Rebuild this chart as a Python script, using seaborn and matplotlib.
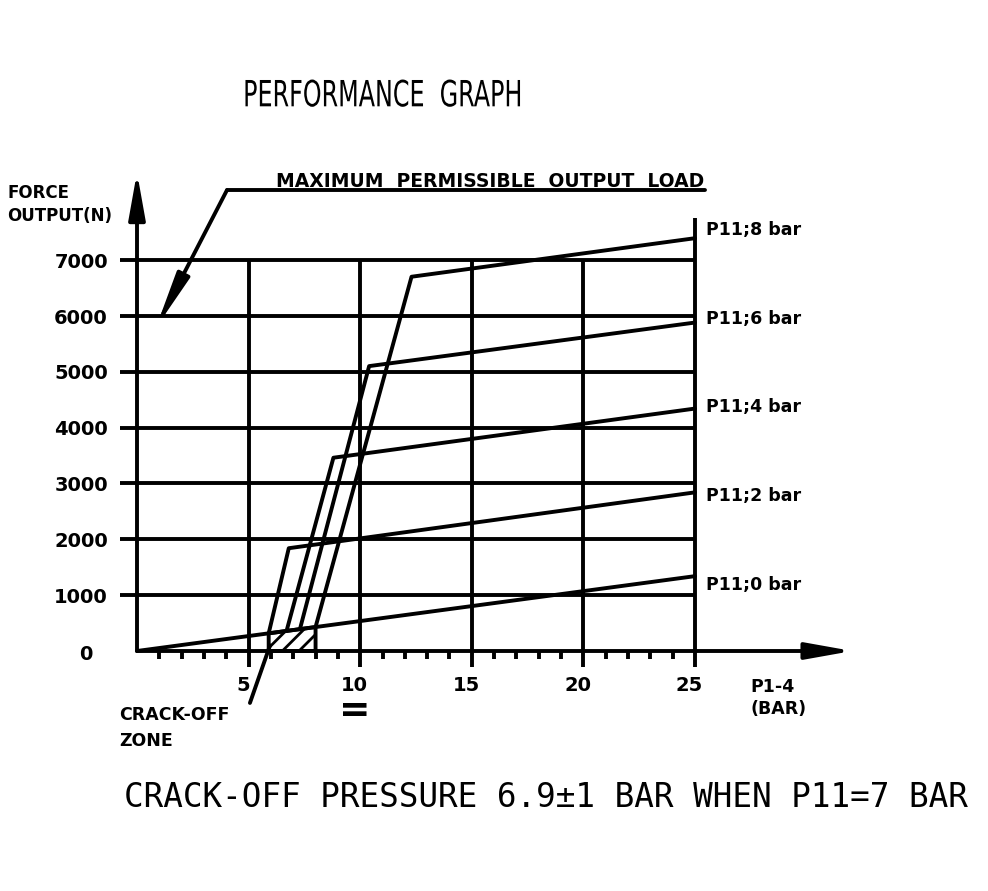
import numpy as np
import pandas as pd
import matplotlib.pyplot as plt
import seaborn as sns
from matplotlib.patheffects import AbstractPathEffect
from matplotlib.transforms import Affine2D

# valores
series_names = ["P11;0 bar", "P11;2 bar", "P11;4 bar", "P11;6 bar", "P11;8 bar"]
p14_bar = [
    [0.0, 25.0],
    [5.9, 6.8, 25.0],
    [6.7, 8.8, 25.0],
    [7.3, 10.4, 25.0],
    [8.0, 12.3, 25.0],
]
force_n = [
    [0, 1340],
    [316, 1840, 2840],
    [359, 3460, 4340],
    [392, 5100, 5880],
    [429, 6700, 7390],
]
x_ticks = [5, 10, 15, 20, 25]
y_ticks = [0, 1000, 2000, 3000, 4000, 5000, 6000, 7000]
crack_zone = [5.9, 8.0]


class Angosto(AbstractPathEffect):
    # comprime el texto en x alrededor de su centro (letra tipo CAD)
    def __init__(self, sx):
        super().__init__()
        self.sx = sx

    def draw_path(self, renderer, gc, tpath, affine, rgbFace=None):
        bb = tpath.get_extents(affine)
        cx = (bb.x0 + bb.x1) / 2
        aff = affine + Affine2D().translate(-cx, 0).scale(self.sx, 1).translate(cx, 0)
        renderer.draw_path(gc, tpath, aff, rgbFace)


sns.set_style("white")
plt.rcParams["hatch.linewidth"] = 2.0
LW = 2.8
bold = dict(family="DejaVu Sans", fontweight="bold", color="black")

# tabla larga para seaborn
rows = []
for name, xs, ys in zip(series_names, p14_bar, force_n):
    for x, y in zip(xs, ys):
        rows.append({"serie": name, "P1-4": x, "F": y})
df = pd.DataFrame(rows)

fig = plt.figure(figsize=(9.88, 8.91), dpi=100)
ax = fig.add_axes([0, 0, 1, 1])
# escala: 22.32 px por bar, 0.05586 px por N
ax.set_xlim(-137 / 22.32, (988 - 137) / 22.32)
ax.set_ylim((651 - 891) / 0.05586, 651 / 0.05586)
ax.axis("off")

# rejilla
for y in y_ticks[1:]:
    ax.plot([-0.75, 25], [y, y], color="black", lw=LW, solid_capstyle="butt")
for x in x_ticks[:-1]:
    ax.plot([x, x], [-290, 7000], color="black", lw=LW, solid_capstyle="butt")
ax.plot([25, 25], [-290, 7760], color="black", lw=LW, solid_capstyle="butt")
for x in range(1, 25):
    if x % 5:
        ax.plot([x, x], [0, -150], color="black", lw=LW, solid_capstyle="butt")

# ejes con flecha
flecha = dict(arrowstyle="-|>,head_length=2.8,head_width=0.5", mutation_scale=10,
              lw=LW, color="black", shrinkA=0, shrinkB=0)
ax.annotate("", xy=(32.05, 0), xytext=(0, 0), arrowprops=flecha)
ax.annotate("", xy=(0, 8570), xytext=(0, 0), arrowprops=flecha)

# zona de crack-off
zx = np.array(crack_zone)
ax.fill_between(zx, 0, zx * force_n[0][1] / p14_bar[0][1], facecolor="none",
                edgecolor="black", hatch="//", lw=LW)

# curvas
sns.lineplot(data=df, x="P1-4", y="F", units="serie", estimator=None, sort=False,
             color="black", lw=LW, legend=False, ax=ax)
ax.axis("off")

label_y = np.linspace(1180, 7540, len(series_names))
for name, ly in zip(series_names, label_y):
    ax.text(25.5, ly, name, fontsize=12.5, va="center", ha="left", **bold)

for x in x_ticks:
    ax.text(x - 0.25, -620, str(x), fontsize=14, ha="center", va="center", **bold)
for y in y_ticks:
    if y == 0:
        ax.text(-2.3, y - 70, "0", fontsize=14, ha="center", va="center", **bold)
    else:
        ax.text(-1.3, y - 40, str(y), fontsize=14, ha="right", va="center", **bold)

ax.text(-5.8, 7990, "FORCE\nOUTPUT(N)", fontsize=12, ha="left", va="center",
        linespacing=1.35, **bold)
ax.text(27.5, -840, "P1-4\n(BAR)", fontsize=12.5, ha="left", va="center",
        linespacing=1.3, **bold)
ax.text(-0.8, -1380, "CRACK-OFF\nZONE", fontsize=12.5, ha="left", va="center",
        linespacing=1.55, **bold)
ax.text(9.75, -1080, "=", fontsize=27, ha="center", va="center", **bold)

# carga maxima permitida
ax.text(15.8, 8300, "MAXIMUM  PERMISSIBLE  OUTPUT  LOAD", fontsize=13.5,
        ha="center", va="baseline", **bold)
ax.plot([4.03, 25.45], [8250, 8250], color="black", lw=LW)
ax.annotate("", xy=(0.85, 5790), xytext=(4.03, 8250),
            arrowprops=dict(flecha, arrowstyle="-|>,head_length=3.2,head_width=0.4"))
ax.plot([5.06, 5.96], [-930, 100], color="black", lw=LW)

ax.text(11.0, 9930, "PERFORMANCE  GRAPH", fontsize=26, ha="center", va="center",
        family="DejaVu Sans", color="black", path_effects=[Angosto(0.66)])
ax.text(18.3, -2630, "CRACK-OFF PRESSURE 6.9\u00b11 BAR WHEN P11=7 BAR", fontsize=23.5,
        ha="center", va="center", family="DejaVu Sans Mono", color="black")

fig.savefig("out.png", dpi=100)
